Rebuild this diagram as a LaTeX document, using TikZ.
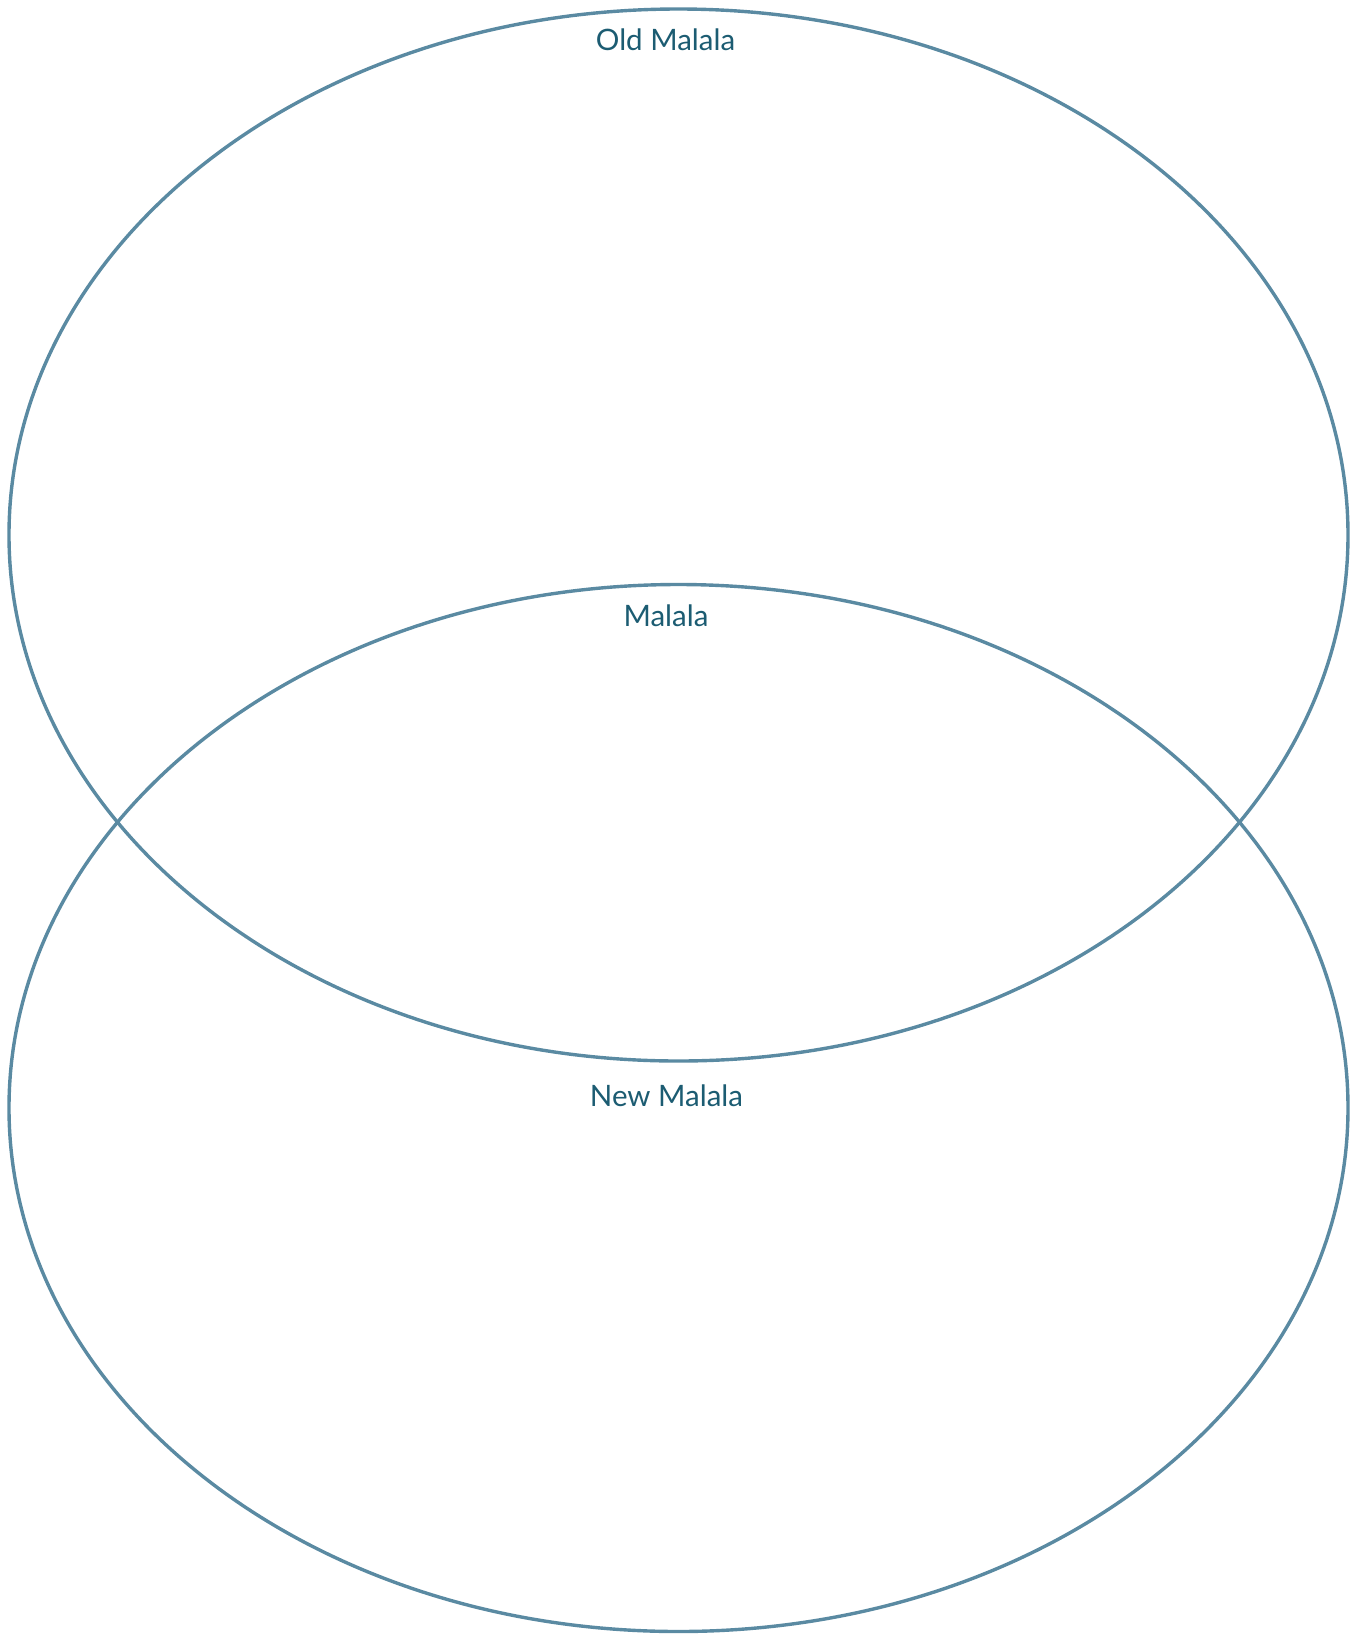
\documentclass[tikz,border=0pt]{standalone}
\usepackage{fontspec}
\setmainfont{Lato}
\usetikzlibrary{shapes.geometric}
\definecolor{ring}{HTML}{5A8AA2}
\definecolor{ink}{HTML}{1C5C72}
\tikzset{
  every node/.style={font=\fontsize{29.5}{34}\selectfont},
  setring/.style={draw=ring,ellipse,line width=3.4pt,inner sep=0pt,outer sep=0pt},
  setlabel/.style={text=ink,inner sep=0pt,anchor=center}}
\begin{document}
\begin{tikzpicture}[x=1pt,y=-1pt]
\useasboundingbox (0,0) rectangle (1356,1634);
\node[setring,minimum width=1339pt,minimum height=1052pt] (old) at (678.5,535) {};
\node[setring,minimum width=1339pt,minimum height=1047pt] (new) at (678.5,1108) {};
\node[setlabel] (oldlabel) at (665.5,40) {Old Malala};
\node[setlabel] (bothlabel) at (666,616) {Malala};
\node[setlabel] (newlabel) at (666.5,1096) {New Malala};
\end{tikzpicture}
\end{document}
